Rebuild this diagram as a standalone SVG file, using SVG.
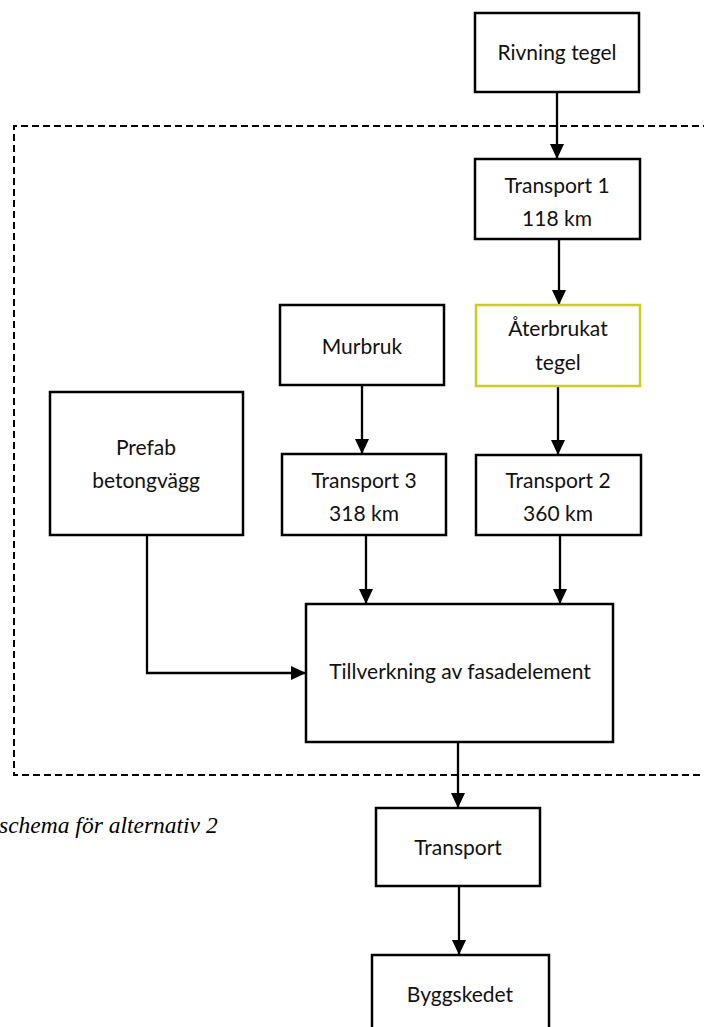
<svg xmlns="http://www.w3.org/2000/svg" width="704" height="1027" viewBox="0 0 704 1027">
  <style>
    .box { fill: #ffffff; stroke: #000000; stroke-width: 2.5; }
    .reuse { fill: #ffffff; stroke: #cccc22; stroke-width: 2.5; }
    .lbl { font-family: Lato, "Open Sans", "Liberation Sans", sans-serif; font-size: 21px; fill: #111111; text-anchor: middle; }
    .edge { fill: none; stroke: #000000; stroke-width: 2.3; }
    .boundary { fill: none; stroke: #000000; stroke-width: 2; stroke-dasharray: 7 4; }
    .caption { font-family: "Liberation Serif", serif; font-style: italic; font-size: 23.5px; fill: #000000; }
  </style>
  <defs>
    <marker id="arrow" viewBox="0 0 15 14" refX="15" refY="7" markerWidth="15" markerHeight="14" markerUnits="userSpaceOnUse" orient="auto">
      <path d="M0,0 L15,7 L0,14 Z" fill="#000000"/>
    </marker>
  </defs>

  <rect width="704" height="1027" fill="#ffffff"/>

  <!-- system boundary -->
  <path class="boundary" d="M710,126 H14 V775 H710"/>

  <text class="caption" x="-1" y="833">schema för alternativ 2</text>

  <g id="connectors">
    <line class="edge" x1="557" y1="92" x2="557" y2="159" marker-end="url(#arrow)"/>
    <line class="edge" x1="559" y1="239" x2="559" y2="305" marker-end="url(#arrow)"/>
    <line class="edge" x1="362" y1="385" x2="362" y2="454" marker-end="url(#arrow)"/>
    <line class="edge" x1="558" y1="387" x2="558" y2="455" marker-end="url(#arrow)"/>
    <line class="edge" x1="366" y1="535" x2="366" y2="604" marker-end="url(#arrow)"/>
    <line class="edge" x1="560" y1="535" x2="560" y2="604" marker-end="url(#arrow)"/>
    <polyline class="edge" points="147,535 147,673 306,673" marker-end="url(#arrow)"/>
    <line class="edge" x1="458" y1="742" x2="458" y2="808" marker-end="url(#arrow)"/>
    <line class="edge" x1="459" y1="886" x2="459" y2="955" marker-end="url(#arrow)"/>
  </g>

  <g id="rivning-tegel">
    <rect class="box" x="475" y="13" width="164" height="79"/>
    <text class="lbl" x="557" y="60">Rivning tegel</text>
  </g>

  <g id="transport-1">
    <rect class="box" x="475" y="159" width="165" height="80"/>
    <text class="lbl" x="557" y="193">Transport 1</text>
    <text class="lbl" x="557" y="226">118 km</text>
  </g>

  <g id="murbruk">
    <rect class="box" x="280" y="305" width="164" height="80"/>
    <text class="lbl" x="362" y="354">Murbruk</text>
  </g>

  <g id="aterbrukat-tegel">
    <rect class="reuse" x="476" y="305" width="164" height="81"/>
    <text class="lbl" x="558" y="336">Återbrukat</text>
    <text class="lbl" x="558" y="370">tegel</text>
  </g>

  <g id="prefab-betongvagg">
    <rect class="box" x="50" y="392" width="193" height="143"/>
    <text class="lbl" x="146" y="455">Prefab</text>
    <text class="lbl" x="146" y="488">betongvägg</text>
  </g>

  <g id="transport-3">
    <rect class="box" x="282" y="454" width="164" height="81"/>
    <text class="lbl" x="364" y="488">Transport 3</text>
    <text class="lbl" x="364" y="521">318 km</text>
  </g>

  <g id="transport-2">
    <rect class="box" x="476" y="455" width="165" height="80"/>
    <text class="lbl" x="558" y="488">Transport 2</text>
    <text class="lbl" x="558" y="521">360 km</text>
  </g>

  <g id="tillverkning">
    <rect class="box" x="306" y="604" width="307" height="138"/>
    <text class="lbl" x="460" y="679">Tillverkning av fasadelement</text>
  </g>

  <g id="transport">
    <rect class="box" x="376" y="808" width="164" height="78"/>
    <text class="lbl" x="458" y="855">Transport</text>
  </g>

  <g id="byggskedet">
    <rect class="box" x="372" y="955" width="177" height="80"/>
    <text class="lbl" x="460" y="1002">Byggskedet</text>
  </g>
</svg>
